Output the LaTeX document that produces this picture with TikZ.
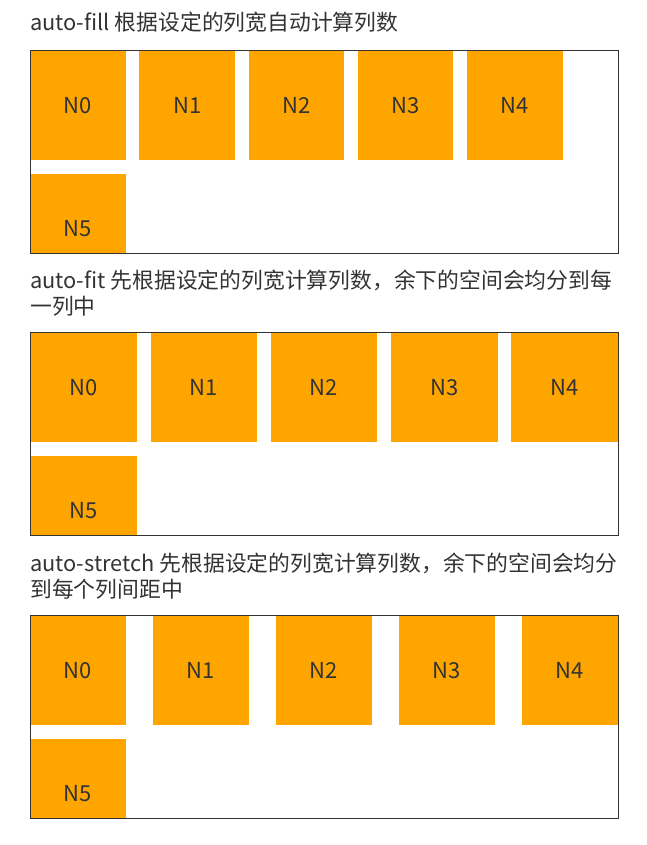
\documentclass[tikz,border=0pt]{standalone}
\usepackage{fontspec}
\setmainfont{Noto Sans CJK SC}
\usetikzlibrary{positioning}

\definecolor{tileorange}{HTML}{FFA500}
\definecolor{inkgray}{HTML}{333333}

\begin{document}
\begin{tikzpicture}[x=1pt, y=-1pt,
  title/.style={anchor=base west, inner sep=0pt, text=inkgray, font=\fontsize{21.8}{26}\selectfont},
  tile/.style={fill=tileorange, inner sep=0pt, minimum height=110pt, text=inkgray, font=\fontsize{22}{26}\selectfont},
  panel/.style={draw=inkgray, line width=0.9pt, anchor=north west, inner sep=0pt, minimum width=588pt, minimum height=203pt}]
  \useasboundingbox (0,0) rectangle (646,845);

  % titles
  \node[title] (t1)  at (30,31)  {auto-fill 根据设定的列宽自动计算列数};
  \node[title] (t2a) at (30,288) {auto-fit 先根据设定的列宽计算列数，余下的空间会均分到每};
  \node[title] (t2b) at (30,314) {一列中};
  \node[title] (t3a) at (30,571) {auto-stretch 先根据设定的列宽计算列数，余下的空间会均分};
  \node[title] (t3b) at (30,597) {到每个列间距中};

  % grids
  \foreach \b/\top/\w/\p in {1/50/95.5/109.2, 2/332/106.5/120.3, 3/615/95.5/123} {
    \begin{scope}
      \clip (30,\top) rectangle (618,{\top+203});
      \foreach \i in {0,...,4}
        \node[tile, anchor=north west, minimum width=\w pt] (n\b\i) at ({30+\i*\p},\top) {N\i};
      \node[tile, minimum width=\w pt, below=13pt of n\b0] (n\b5) {N5};
    \end{scope}
    \node[panel] (box\b) at (30,\top) {};
  }
\end{tikzpicture}
\end{document}
